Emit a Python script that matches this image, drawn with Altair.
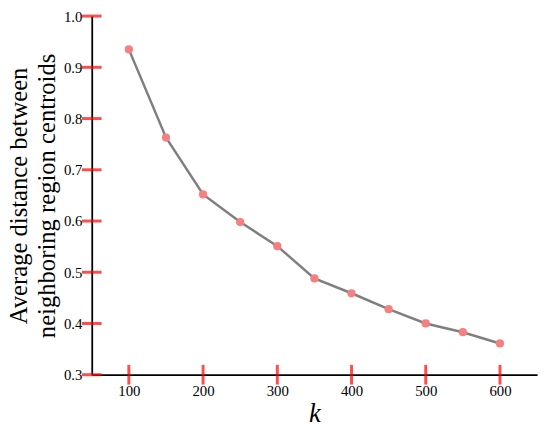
import altair as alt
import pandas as pd

k_values = [100, 150, 200, 250, 300, 350, 400, 450, 500, 550, 600]
avg_dist = [0.935, 0.763, 0.652, 0.598, 0.551, 0.488, 0.459, 0.428, 0.400, 0.383, 0.361]

x_major = [100, 200, 300, 400, 500, 600]
x_minor = [150, 250, 350, 450, 550, 650]
y_major = [0.3, 0.4, 0.5, 0.6, 0.7, 0.8, 0.9, 1.0]
y_minor = [0.35, 0.45, 0.55, 0.65, 0.75, 0.85, 0.95]

x_title = "k"
y_title = ["Average distance between", "neighboring region centroids"]

df = pd.DataFrame({"k": k_values, "d": avg_dist})

W, H = 452, 364
FONT = "Liberation Serif"
MAJ, MIN = 20, 10
xs = alt.Scale(domain=[50, 650], nice=False, zero=False)
ys = alt.Scale(domain=[0.3, 1.0], nice=False, zero=False)

X_AXIS = alt.Axis(orient="bottom", values=x_major, ticks=False,
                  labelPadding=9, grid=False, domainColor="black", domainWidth=1.8,
                  labelFont=FONT, labelFontSize=15, labelColor="black",
                  titleFont=FONT, titleFontSize=27, titleFontStyle="italic",
                  titleFontWeight="normal", titleColor="black", titlePadding=2)
Y_AXIS = alt.Axis(orient="left", values=y_major, ticks=False, format=".1f",
                  labelPadding=10, grid=False, domainColor="black", domainWidth=1.8,
                  labelFont=FONT, labelFontSize=15, labelColor="black",
                  titleFont=FONT, titleFontSize=25, titleFontWeight="normal",
                  titleColor="black", titlePadding=4, titleLineHeight=28)

line = alt.Chart(df).mark_line(color="#7f7f7f", strokeWidth=2.5).encode(
    x=alt.X("k:Q", scale=xs, title=x_title, axis=X_AXIS),
    y=alt.Y("d:Q", scale=ys, title=y_title, axis=Y_AXIS),
)

xt_major = alt.Chart(pd.DataFrame({"v": x_major})).mark_tick(
    color="red", thickness=3, size=MAJ, orient="vertical"
).encode(x=alt.X("v:Q", scale=xs, title=x_title, axis=X_AXIS), y=alt.value(H))

yt_major = alt.Chart(pd.DataFrame({"v": y_major})).mark_tick(
    color="red", thickness=3, size=MAJ, orient="horizontal"
).encode(y=alt.Y("v:Q", scale=ys, title=y_title, axis=Y_AXIS), x=alt.value(0))

points = alt.Chart(df).mark_circle(color="#f77f7f", opacity=1, size=70).encode(
    x=alt.X("k:Q", scale=xs, title=x_title, axis=X_AXIS),
    y=alt.Y("d:Q", scale=ys, title=y_title, axis=Y_AXIS),
)

chart = alt.layer(line, points, xt_major, yt_major).properties(
    width=W, height=H,
    autosize=alt.AutoSizeParams(type="none"),
    padding={"left": 85, "top": 5, "right": 5, "bottom": 60},
).configure_view(stroke=None)

chart.save("out.html", embed_options={"renderer": "svg", "actions": False})
